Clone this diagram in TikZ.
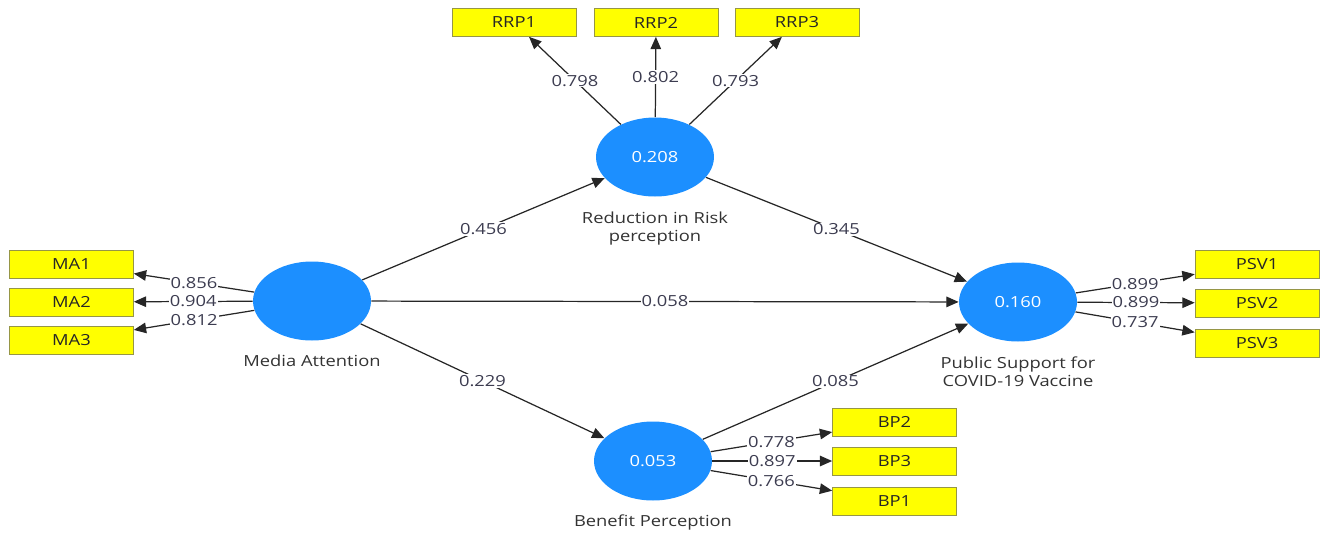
\documentclass[tikz,border=0pt]{standalone}
\usepackage{fontspec}
\setmainfont{Open Sans}[FakeStretch=1.2]
\usetikzlibrary{positioning,arrows.meta,shapes.geometric}
\definecolor{lvblue}{RGB}{28,143,255}
\definecolor{mvyellow}{RGB}{255,255,0}
\definecolor{mvborder}{RGB}{150,150,70}
\definecolor{coefgray}{RGB}{60,60,80}

\begin{document}
\begin{tikzpicture}[x=0.02cm,y=-0.02cm,
    font=\fontsize{8.7}{10.3}\selectfont,
    latent/.style={ellipse, fill=lvblue, minimum width=2.36cm, minimum height=1.58cm, text=white, inner sep=0pt},
    indicator/.style={rectangle, draw=mvborder, fill=mvyellow, minimum width=2.48cm, minimum height=0.56cm, inner sep=0pt, text=black!85},
    lvname/.style={align=center, inner sep=0pt, text=black!80},
    link/.style={-{Triangle[length=7pt,width=6pt]}, line width=0.7pt, black!85},
    coef/.style={midway, fill=white, inner sep=0.6pt, text=coefgray},
]
    \useasboundingbox (0,0) rectangle (1323,532);

    \node[latent] (ma) at (312,301) {};
    \node[latent] (rrp) at (655,157) {0.208};
    \node[latent] (psv) at (1018,302) {0.160};
    \node[latent] (bp) at (653,461) {0.053};

    \node[lvname, below=8pt of ma] (ma-name) {Media Attention};
    \node[lvname, below=8.5pt of rrp] (rrp-name) {Reduction in Risk\\perception};
    \node[lvname, below=8.5pt of psv] (psv-name) {Public Support for\\COVID-19 Vaccine};
    \node[lvname, below=8pt of bp] (bp-name) {Benefit Perception};

    \node[indicator] (ma1) at (71.5,264) {MA1};
    \node[indicator] (ma2) at (71.5,302) {MA2};
    \node[indicator] (ma3) at (71.5,340) {MA3};
    \node[indicator] (rrp1) at (514,22.5) {RRP1};
    \node[indicator] (rrp2) at (656,22.5) {RRP2};
    \node[indicator] (rrp3) at (797,22.5) {RRP3};
    \node[indicator] (psv1) at (1257,264.5) {PSV1};
    \node[indicator] (psv2) at (1257,303) {PSV2};
    \node[indicator] (psv3) at (1257,343) {PSV3};
    \node[indicator] (bp2) at (894.5,422) {BP2};
    \node[indicator] (bp3) at (894.5,461) {BP3};
    \node[indicator] (bp1) at (894.5,501) {BP1};

    \draw[link] (ma) -- node[coef] {0.456} (rrp);
    \draw[link] (rrp) -- node[coef] {0.345} (psv);
    \draw[link] (ma) -- node[coef] {0.058} (psv);
    \draw[link] (ma) -- node[coef] {0.229} (bp);
    \draw[link] (bp) -- node[coef] {0.085} (psv);

    \draw[link] (ma) -- node[coef] {0.856} (ma1);
    \draw[link] (ma) -- node[coef] {0.904} (ma2);
    \draw[link] (ma) -- node[coef] {0.812} (ma3);
    \draw[link] (rrp) -- node[coef] {0.798} (rrp1);
    \draw[link] (rrp) -- node[coef] {0.802} (rrp2);
    \draw[link] (rrp) -- node[coef] {0.793} (rrp3);
    \draw[link] (psv) -- node[coef] {0.899} (psv1);
    \draw[link] (psv) -- node[coef] {0.899} (psv2);
    \draw[link] (psv) -- node[coef] {0.737} (psv3);
    \draw[link] (bp) -- node[coef] {0.778} (bp2);
    \draw[link] (bp) -- node[coef] {0.897} (bp3);
    \draw[link] (bp) -- node[coef] {0.766} (bp1);
\end{tikzpicture}
\end{document}
